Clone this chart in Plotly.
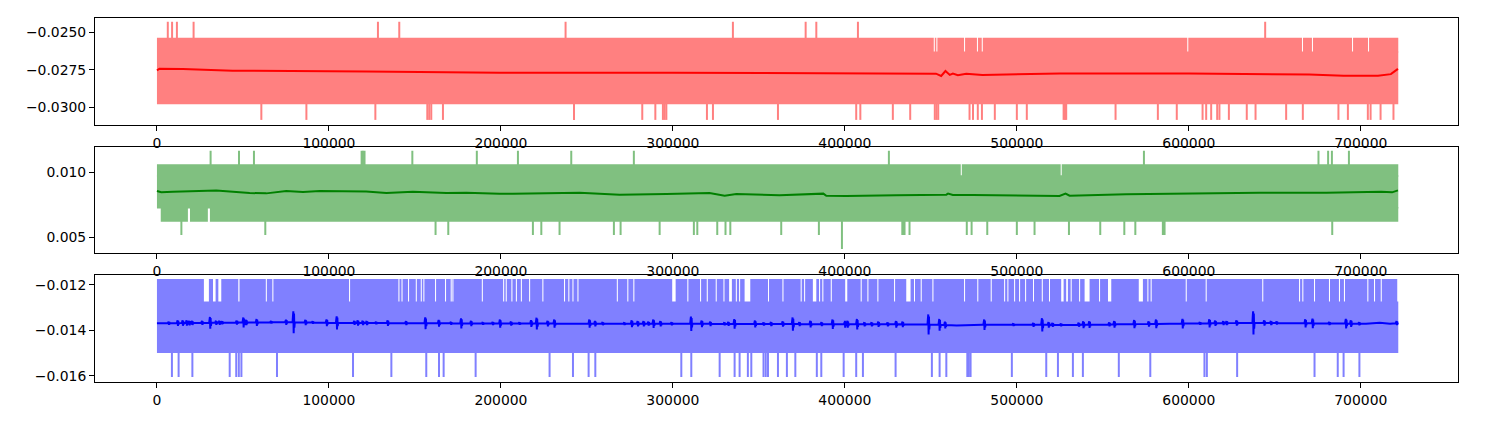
import numpy as np
import plotly.graph_objects as go

# ---------------- data ----------------
X_END = 721800
x_ticks = [0, 100000, 200000, 300000, 400000, 500000, 600000, 700000]

# Panel 1 (red)
red_levels = [-0.03084, -0.0298, -0.02637, -0.02538, -0.02432]  # spike-low, band-low, upper-level start, band-top, spike-high
red_up_x = [6300, 8800, 11600, 21300, 128500, 140900, 237600, 334900, 377200, 383400, 407600, 644400]
red_dn_x = [60700, 86900, 127000, 157200, 158300, 159500, 166300, 242500, 282200, 289800, 294200, 295200,
            296200, 319800, 323300, 361100, 406600, 409000, 427900, 438000, 452300, 453300, 454300, 472500,
            474500, 477300, 479700, 487200, 500000, 505800, 527200, 528000, 528700, 557400, 582000, 593000,
            608000, 610100, 613000, 616500, 617800, 623300, 633700, 638800, 656600, 666300, 687000, 692500,
            704100, 705700, 711500, 719000]
red_gap_lo = [451700, 453200, 469300, 476800, 479600, 599100, 665800, 671600, 694900, 704200]
red_gap_hi = [452300, 453800, 469900, 477400, 480200, 599700, 666400, 672200, 695500, 704800]
red_line_x = [0, 1500, 15000, 30000, 44000, 121700, 199200, 300000, 400000, 451000, 453000, 456000, 458500,
              461000, 462800, 465700, 470600, 480000, 500000, 525000, 600000, 650000, 670000, 690000, 700000,
              710000, 717500, 720800, 721600]
red_line_y = [-0.02755, -0.02744, -0.02746, -0.02752, -0.02757, -0.02763, -0.02770, -0.02771, -0.02774,
              -0.02776, -0.02777, -0.02792, -0.02759, -0.02785, -0.02776, -0.02787, -0.02778, -0.02785,
              -0.02779, -0.02776, -0.02776, -0.02778, -0.02783, -0.02791, -0.02792, -0.02790, -0.02780,
              -0.02750, -0.02745]

# Panel 2 (green)
green_levels = [0.00518, 0.0062, 0.00733, 0.00966, 0.010615, 0.01166]  # spike-low, band-low, lower-level top, upper-level start, band-top, spike-high
green_deep_x = [398300]
green_deep_y = 0.0041
green_up_x = [31200, 47700, 56400, 119000, 119800, 120700, 148500, 186000, 209900, 240900, 277300, 425600,
              573900, 675400, 681000, 683200, 693100]
green_dn_x = [14200, 63000, 162000, 169400, 218600, 223500, 234100, 265700, 269600, 292300, 312200, 314200,
              325800, 330600, 333400, 363000, 384900, 433400, 434000, 434700, 437600, 470900, 473700, 482800,
              500000, 510300, 530300, 548500, 562500, 568900, 584900, 585400, 585900, 683400]
green_lowgap_lo = [0, 18000, 29600]
green_lowgap_hi = [2200, 19200, 30800]
green_upgap_lo = [467400, 525500]
green_upgap_hi = [468000, 526100]
green_line_x = [0, 2500, 9300, 34500, 53900, 63600, 75200, 84900, 94600, 121700, 133400, 148800, 168300,
                179900, 199200, 207000, 245800, 269000, 296200, 321300, 330100, 336900, 362000, 386200, 387500,
                389200, 400800, 429900, 459000, 460000, 462800, 474400, 503500, 524800, 528300, 530700, 563600,
                602300, 641100, 679900, 711900, 718200, 721600]
green_line_y = [0.00856, 0.00846, 0.00851, 0.00861, 0.00841, 0.00838, 0.00856, 0.00848, 0.00856, 0.00853,
                0.00841, 0.00851, 0.00841, 0.00843, 0.00836, 0.00836, 0.00843, 0.00828, 0.00833, 0.00841,
                0.00820, 0.00833, 0.00823, 0.00831, 0.00836, 0.00820, 0.00818, 0.00823, 0.00828, 0.00836,
                0.00826, 0.00826, 0.00820, 0.00818, 0.00836, 0.00820, 0.00831, 0.00838, 0.00843, 0.00843,
                0.00851, 0.00846, 0.00861]

# Panel 3 (blue)
blue_levels = [-0.01606, -0.01501, -0.01279, -0.01175]  # spike-low, band-low, upper-level start, top
blue_up_end = 721200
blue_dn_x = [8700, 12600, 20600, 42300, 46100, 47600, 49100, 69800, 114000, 136300, 156600, 164000, 166700,
             185300, 228300, 241900, 251000, 254900, 304900, 310700, 327200, 335900, 338800, 343600, 345600,
             352700, 354000, 355300, 361100, 366300, 371200, 383700, 386300, 399300, 406600, 410500, 429500,
             450600, 455100, 459000, 471200, 472100, 473100, 497100, 517100, 523900, 532600, 538400, 559300,
             577600, 609100, 610500, 628100, 673100, 686600, 690000, 699200]
blue_gap_lo = [27300, 32600, 35700, 47300, 63300, 67100, 111700, 140400, 142200, 146000, 150500, 153400, 154900,
               161700, 167500, 170800, 171800, 188900, 201300, 202800, 206100, 208700, 211600, 216400, 224100,
               236700, 239200, 241600, 244500, 267400, 273500, 277000, 299600, 308400, 315800, 319700, 324900,
               329400, 332700, 336600, 338500, 341700, 355300, 363700, 374300, 376300, 381400, 385000, 386900,
               391800, 400200, 409200, 413100, 418900, 428600, 435700, 440200, 444100, 450900, 469300, 477000,
               484800, 492600, 494500, 498400, 501300, 504800, 509400, 514500, 518700, 525800, 528700, 531300,
               536200, 539400, 547800, 553000, 570900, 575900, 577800, 598200, 609800, 642700, 664100, 666000,
               672800, 681500, 687300, 690200, 703800, 707700, 711600]
blue_gap_hi = [30200, 34100, 37400, 48000, 63900, 67700, 112300, 141000, 142800, 146600, 151100, 154000, 155500,
               162300, 168100, 171400, 172400, 189500, 201900, 203400, 206700, 209300, 212200, 217000, 224700,
               237300, 239800, 242200, 245100, 268000, 274100, 277600, 301600, 309000, 316400, 320300, 325500,
               330000, 334300, 337200, 339100, 345000, 355900, 364300, 374900, 376900, 383400, 385600, 387500,
               392400, 401400, 409800, 413700, 419500, 429200, 438200, 440800, 444700, 451500, 469900, 477600,
               485400, 493200, 495100, 499000, 501900, 505400, 510000, 515100, 519300, 527200, 529700, 531900,
               536800, 542300, 548400, 554900, 573300, 576500, 578400, 598800, 610400, 643300, 664700, 666600,
               673400, 682100, 687900, 690800, 704400, 708300, 712200]
blue_base_x = [0, 75000, 100000, 200000, 300000, 400000, 450000, 465000, 480000, 528000, 587000, 637000,
               703000, 711000, 717000, 721800]
blue_base_y = [-0.01370, -0.01365, -0.01368, -0.01371, -0.01372, -0.01374, -0.01375, -0.01380, -0.01376,
               -0.01377, -0.01372, -0.01368, -0.01372, -0.01368, -0.01372, -0.01369]
blue_blip_x = [7000, 12200, 15100, 17400, 19000, 20600, 26400, 31000, 34500, 36500,
               38000, 46500, 50400, 52000, 58100, 66500, 75200, 79500, 86500, 90700,
               98800, 104700, 114900, 116900, 119800, 122100, 127500, 134300, 145000, 156200,
               164000, 171100, 177000, 182800, 189600, 195400, 199600, 206000, 210900, 217700,
               220900, 227300, 231200,
               251600, 254900, 259300, 271900, 276200, 279700, 283100, 285900, 288800, 292900,
               299400, 310700, 316900, 321900, 330100, 332400, 335900, 347900, 352900, 357200,
               364000, 369800, 373700, 380100, 386600, 393000, 400200, 401700, 407200, 411500,
               415700, 419600, 425000, 429900, 433700, 448700, 455100, 458400, 481200,
               498100, 509700, 514800, 518600, 520900, 525800, 536100, 538800, 542300, 553900,
               556800, 568400, 576800, 581100, 596500, 606600, 612100, 615500, 620200, 622100,
               627900, 637600, 644000, 647900, 651200, 667900, 672100, 681800, 691500, 694400,
               699200, 721000]
blue_blip_amp = [0.7, 1.2, 1.2, 1.2, 1.0, 0.9, 0.9, 2.6, 0.9, 0.9,
                 0.7, 0.9, 2.2, 1.2, 1.5, 0.6, 1.2, 4.8, 1.2, 0.6,
                 1.5, 2.9, 0.9, 1.2, 1.0, 0.9, 0.6, 1.2, 0.9, 2.6,
                 1.5, 0.7, 2.2, 1.2, 0.6, 0.7, 1.8, 0.9, 0.6, 1.5,
                 2.6, 1.2, 1.8,
                 1.8, 1.2, 0.7, 0.6, 1.5, 1.2, 1.2, 0.9, 1.9, 1.2,
                 0.7, 3.2, 1.5, 1.0, 0.7, 0.9, 2.1, 1.5, 0.7, 0.9,
                 1.2, 2.9, 0.9, 1.5, 0.9, 2.1, 1.5, 1.5, 2.3, 0.9,
                 0.9, 1.2, 0.9, 1.5, 1.2, 4.4, 2.6, 1.5, 2.3,
                 0.6, 0.9, 2.9, 1.2, 0.9, 0.6, 0.9, 1.5, 1.5, 0.9,
                 1.5, 1.8, 1.2, 1.9, 2.1, 0.6, 1.8, 1.2, 0.9, 0.9,
                 1.2, 5.1, 1.2, 0.9, 0.7, 1.8, 2.1, 0.7, 2.1, 1.5,
                 0.7, 0.9]  # units of 1e-4

# ---------------- helpers ----------------
def rects(x0s, x1s, y0, y1):
    xs, ys = [], []
    for a, b in zip(x0s, x1s):
        xs += [a, b, b, a, a, None]
        ys += [y0, y0, y1, y1, y0, None]
    return xs, ys


def complement(start, end, gap_lo, gap_hi):
    s, e = [start], []
    for lo, hi in sorted(zip(gap_lo, gap_hi)):
        e.append(lo)
        s.append(hi)
    e.append(end)
    return s, e


def spikes(xs, y0, y1):
    X, Y = [], []
    for x in xs:
        X += [x, x, None]
        Y += [y0, y1, None]
    return X, Y


fig = go.Figure()


def add_fill(xs, ys, color, ax):
    fig.add_trace(go.Scatter(x=xs, y=ys, mode="lines", fill="toself", fillcolor=color,
                             line=dict(width=0, color=color), hoverinfo="skip", showlegend=False,
                             xaxis="x" + ax, yaxis="y" + ax))


def add_lines(xs, ys, color, width, ax):
    fig.add_trace(go.Scatter(x=xs, y=ys, mode="lines", line=dict(width=width, color=color),
                             connectgaps=False, hoverinfo="skip", showlegend=False,
                             xaxis="x" + ax, yaxis="y" + ax))


# small vertical overlap between stacked fills so no seam shows
OV1, OV2, OV3 = 0.00008, 0.00012, 0.00005

# ---------------- panel 1 ----------------
LR = "#ff8080"
add_fill(*rects([0], [X_END], red_levels[1], red_levels[2] + OV1), LR, "")
s, e = complement(0, X_END, red_gap_lo, red_gap_hi)
add_fill(*rects(s, e, red_levels[2], red_levels[3]), LR, "")
add_lines(*spikes(red_up_x, red_levels[3] - OV1, red_levels[4]), LR, 2, "")
add_lines(*spikes(red_dn_x, red_levels[1] + OV1, red_levels[0]), LR, 2, "")
add_lines(red_line_x, red_line_y, "#ff0000", 2, "")

# ---------------- panel 2 ----------------
LG = "#80c080"
add_fill(*rects([0], [X_END], green_levels[2] - OV2, green_levels[3] + OV2), LG, "2")
s, e = complement(0, X_END, green_lowgap_lo, green_lowgap_hi)
s, e = s[1:], e[1:]
add_fill(*rects(s, e, green_levels[1], green_levels[2]), LG, "2")
s, e = complement(0, X_END, green_upgap_lo, green_upgap_hi)
add_fill(*rects(s, e, green_levels[3], green_levels[4]), LG, "2")
add_lines(*spikes(green_up_x, green_levels[4] - OV2, green_levels[5]), LG, 2, "2")
add_lines(*spikes(green_dn_x, green_levels[1] + OV2, green_levels[0]), LG, 2, "2")
add_lines(*spikes(green_deep_x, green_levels[1] + OV2, green_deep_y), LG, 2, "2")
add_lines(green_line_x, green_line_y, "#008000", 2, "2")

# ---------------- panel 3 ----------------
LB = "#8080ff"
add_fill(*rects([0], [X_END], blue_levels[1], blue_levels[2] + OV3), LB, "3")
s, e = complement(0, blue_up_end, blue_gap_lo, blue_gap_hi)
add_fill(*rects(s, e, blue_levels[2], blue_levels[3]), LB, "3")
add_lines(*spikes(blue_dn_x, blue_levels[1] + OV3, blue_levels[0]), LB, 2, "3")

# smoothed line with its short oscillation bursts
pts = list(zip(blue_base_x, blue_base_y))
for bx, ba in zip(blue_blip_x, blue_blip_amp):
    base = float(np.interp(bx, blue_base_x, blue_base_y))
    a = ba * 1e-4
    for dx, k in [(-650, 0.0), (-400, 0.6), (-200, 1.0), (0, -1.0), (200, 0.8), (400, -0.5), (650, 0.0)]:
        pts.append((bx + dx, base + k * a))
pts.sort(key=lambda p: p[0])
add_lines([p[0] for p in pts], [p[1] for p in pts], "#0000ff", 2, "3")

# ---------------- layout ----------------
FONT = dict(family="DejaVu Sans", size=13.9, color="black")
XR = [-36025, 756525]


def xax(anchor):
    return dict(domain=[0, 1], range=XR, anchor=anchor, tickvals=x_ticks, tickformat="d",
                showline=True, mirror=True, linecolor="black", linewidth=1, ticks="outside",
                ticklen=5, tickwidth=1, tickcolor="black", showgrid=False, zeroline=False,
                tickfont=FONT)


def yax(anchor, dom, rng, vals, fmt):
    return dict(domain=dom, range=rng, anchor=anchor, tickvals=vals, tickformat=fmt,
                showline=True, mirror=True, linecolor="black", linewidth=1, ticks="outside",
                ticklen=5, tickwidth=1, tickcolor="black", showgrid=False, zeroline=False,
                tickfont=FONT)


# page body adds an 8px offset, so the figure is sized to fit the 1487x423 window
fig.update_layout(
    width=1479, height=415,
    margin=dict(l=87, r=29, t=10, b=41),
    paper_bgcolor="white", plot_bgcolor="white",
    showlegend=False,
    xaxis=xax("y"),
    yaxis=yax("x", [0.706, 1.0], [-0.03118, -0.02407], [-0.0300, -0.0275, -0.0250], ".4f"),
    xaxis2=xax("y2"),
    yaxis2=yax("x2", [0.3544, 0.6464], [0.003792, 0.01197], [0.005, 0.010], ".3f"),
    xaxis3=xax("y3"),
    yaxis3=yax("x3", [0.0, 0.2931], [-0.01628, -0.01159], [-0.016, -0.014, -0.012], ".3f"),
)

fig.write_html("out.html")
